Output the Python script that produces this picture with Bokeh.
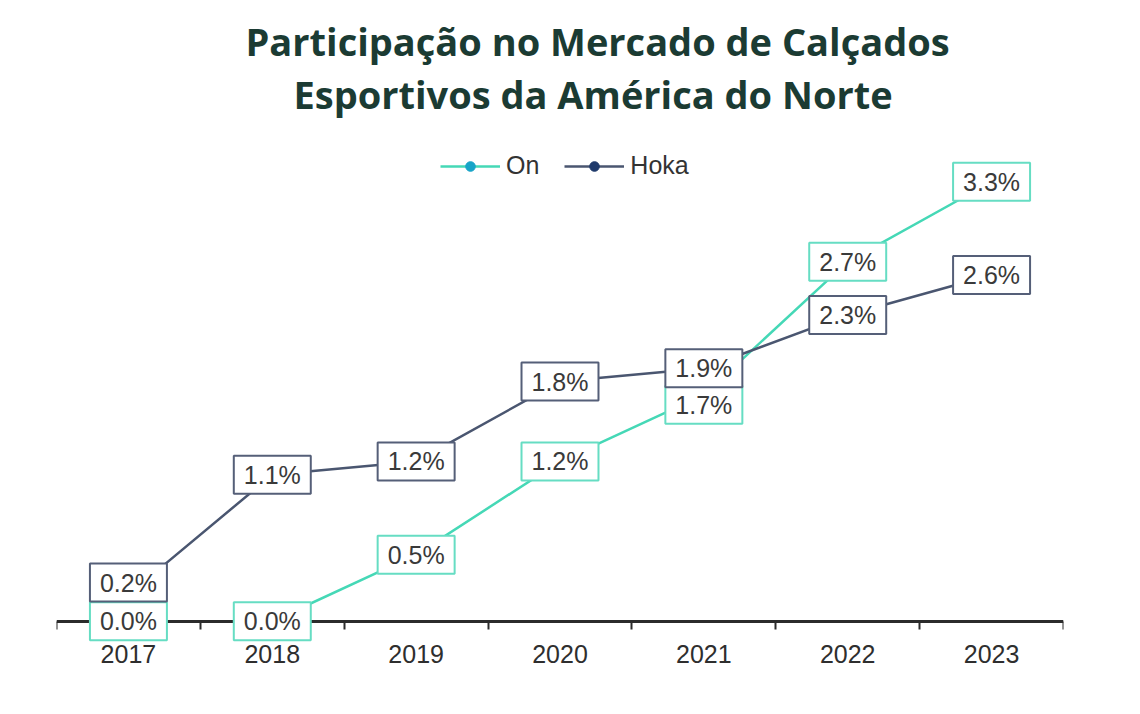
from bokeh.plotting import figure
from bokeh.models import Range1d, FixedTicker, Title, Legend, LegendItem, ColumnDataSource
from bokeh.core.properties import value
from bokeh.embed import file_html
from bokeh.resources import INLINE

# ---- data ----
years = [2017, 2018, 2019, 2020, 2021, 2022, 2023]
year_labels = ["2017", "2018", "2019", "2020", "2021", "2022", "2023"]
on_share = [0.0, 0.0, 0.5, 1.2, 1.7, 2.7, 3.3]
hoka_share = [0.2, 1.1, 1.2, 1.8, 1.9, 2.3, 2.6]
series_names = ["On", "Hoka"]
title_lines = ["Participação no Mercado de Calçados", "Esportivos da América do Norte"]

# label nudges (screen px, style only)
on_label_nudge = [0, 0, 0, 0, 10, 0, 0]
hoka_label_nudge = [-12, 0, 0, 0, 0, 0, 0]

ON_LINE = "#45d8b6"
ON_BOX = "#66ddc3"
ON_DOT = "#17a4c8"
HOKA_LINE = "#4a5670"
HOKA_BOX = "#555f78"
HOKA_DOT = "#1f3a6b"
TITLE_COLOR = "#1b3b33"
TEXT_COLOR = "#3a3a3a"

p = figure(width=1124, height=698, output_backend="svg", toolbar_location=None,
           x_range=Range1d(2016.5, 2023.5), y_range=Range1d(-0.58, 3.76),
           y_axis_location=None, min_border_left=56, min_border_right=61,
           min_border_top=120, min_border_bottom=0)
p.grid.visible = False
p.outline_line_color = None

# titles (first added is closest to the frame)
t2 = Title(text=title_lines[1], align="left", offset=237, text_font="Open Sans",
           text_font_size="38px", text_font_style="bold", text_color=TITLE_COLOR, standoff=2)
t1 = Title(text=title_lines[0], align="left", offset=189, text_font="Open Sans",
           text_font_size="38px", text_font_style="bold", text_color=TITLE_COLOR, standoff=-4)
p.add_layout(t2, "above")
p.add_layout(t1, "above")

ax = p.xaxis[0]
ax.ticker = FixedTicker(ticks=years, minor_ticks=[y - 0.5 for y in years] + [years[-1] + 0.5])
ax.major_label_overrides = {y: s for y, s in zip(years, year_labels)}
ax.fixed_location = 0
ax.major_tick_line_color = None
ax.major_tick_in = 0
ax.major_tick_out = 8
ax.minor_tick_in = 0
ax.minor_tick_out = 8
ax.minor_tick_line_color = "#2b2b2b"
ax.minor_tick_line_width = 2
ax.axis_line_color = "#2b2b2b"
ax.axis_line_width = 3
ax.major_label_text_font = "Liberation Sans"
ax.major_label_text_font_size = "25px"
ax.major_label_text_color = "#2e2e2e"
ax.major_label_standoff = 16

on_src = ColumnDataSource(dict(x=years, y=on_share, lab=[f"{v:.1f}%" for v in on_share], dy=on_label_nudge))
hoka_src = ColumnDataSource(dict(x=years, y=hoka_share, lab=[f"{v:.1f}%" for v in hoka_share], dy=hoka_label_nudge))

on_line = p.line("x", "y", source=on_src, line_color=ON_LINE, line_width=2.5)
hoka_line = p.line("x", "y", source=hoka_src, line_color=HOKA_LINE, line_width=2.5)
on_dot = p.scatter("x", "y", source=on_src, size=13, fill_color=ON_DOT, line_color=ON_DOT)
hoka_dot = p.scatter("x", "y", source=hoka_src, size=13, fill_color=HOKA_DOT, line_color=HOKA_DOT)

common = dict(text_align="center", text_baseline="middle", text_font=value("Liberation Sans"),
              text_font_size="25px", text_color=TEXT_COLOR, background_fill_color="white",
              border_line_width=2, padding=dict(x=10, y=5), level="overlay")
p.text("x", "y", text="lab", y_offset="dy", source=on_src, border_line_color=ON_BOX, **common)
p.text("x", "y", text="lab", y_offset="dy", source=hoka_src, border_line_color=HOKA_BOX, **common)

legend = Legend(items=[LegendItem(label=series_names[0], renderers=[on_line, on_dot]),
                       LegendItem(label=series_names[1], renderers=[hoka_line, hoka_dot])],
                orientation="horizontal", location=(384, 518), glyph_width=60, glyph_height=24,
                label_standoff=6, spacing=25, padding=0, margin=0, border_line_color=None,
                background_fill_alpha=0, label_text_font="Liberation Sans",
                label_text_font_size="25px", label_text_color="#333333")
p.add_layout(legend, "center")

open("out.html", "w").write(file_html(p, INLINE))
